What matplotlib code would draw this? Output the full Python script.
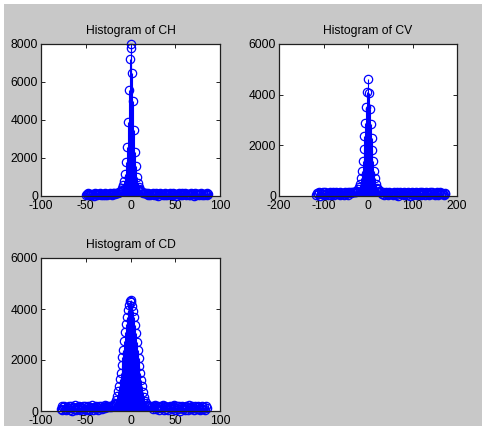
import numpy as np
import matplotlib
matplotlib.use("Agg")
import matplotlib.pyplot as plt
from matplotlib.patches import Rectangle

# ---------------- data ----------------
# Each histogram: counts left of zero (far left -> -step), count at zero, counts right of zero (+step -> far right)

# Histogram of CH (bin step 1, bins -50 .. 87)
ch_step = 1
ch_left = [
    40, 120, 70, 150, 90, 30, 130, 60, 110, 20, 140, 80, 100, 50, 130, 90, 150, 40, 110, 70,
    120, 60, 140, 100, 30, 130, 90, 150, 110, 70, 140, 120, 160, 130, 150,            # -50 .. -16
    160, 180, 200, 230, 270, 330, 420, 560, 800, 1150, 1800, 2600, 3900, 5600, 7200,  # -15 .. -1
]
ch_peak = 8000
ch_right = [
    7800, 6500, 5000, 3500, 2300, 1600, 1000, 700, 500, 380, 300, 250, 210, 180, 160, 150,  # 1 .. 16
    140, 100, 150, 60, 120, 30, 130, 90, 150, 50, 110, 140, 70, 120, 20, 100, 150, 80, 130, 40,
    110, 60, 140, 90, 30, 130, 100, 150, 70, 120, 50, 140, 80, 110, 20, 130, 90, 150, 60, 100,
    140, 40, 120, 80, 150, 30, 110, 130, 70, 100, 50, 140, 90, 120, 20, 150, 60, 110, 80, 130,
    40, 100, 140, 70, 120, 30, 110, 90, 150, 60, 100,                                        # 17 .. 87
]

# Histogram of CV (bin step 2, bins -116 .. 174)
cv_step = 2
cv_left = [
    40, 130, 80, 150, 10, 110, 60, 140, 90, 30, 160, 70, 120, 20, 100, 150, 50, 130, 80, 140,
    30, 110, 160, 60, 120, 90, 20, 150, 70, 130, 100, 40, 160, 80, 120, 50, 140, 110, 150, 130,
    160, 140, 170, 150,                                                                  # -116 .. -30
    160, 180, 210, 260, 340, 480, 700, 1000, 1400, 1850, 2350, 2900, 3500, 4100,         # -28 .. -2
]
cv_peak = 4600
cv_right = [
    4050, 3450, 2850, 2300, 1800, 1380, 1000, 700, 470, 330, 260, 210, 180, 160,         # 2 .. 28
    150, 90, 160, 40, 120, 140, 70, 110, 20, 150, 100, 60, 130, 30, 160, 80, 120, 50, 140, 10,
    110, 150, 60, 130, 90, 20, 160, 70, 120, 40, 140, 100, 0, 80, 150, 30, 110, 130, 60, 160,
    50, 120, 90, 140, 20, 100, 160, 70, 130, 40, 150, 110, 60, 120, 30, 140, 90, 160, 80, 110,
    40, 130, 70, 150, 20, 100, 140, 60, 120, 90, 30, 110, 80,                            # 30 .. 174
]

# Histogram of CD (bin step 1, bins -78 .. 85)
cd_step = 1
cd_left = [
    60, 180, 20, 140, 200, 90, 30, 160, 110, 210, 50, 130, 190, 10, 150, 80, 220, 40, 170, 120,
    70, 200, 30, 150, 100, 210, 60, 180, 20, 140, 190, 90, 40, 160, 120, 220, 50, 170, 110, 200,
    80, 150, 30, 190, 120, 210, 60, 170, 140, 220, 100, 180, 150, 200, 160, 190, 170, 200,  # -78 .. -21
    210, 230, 260, 320, 420, 580, 780, 1000, 1250, 1500, 1800, 2100, 2400, 2750, 3100, 3400,
    3700, 3950, 4150, 4300,                                                                 # -20 .. -1
]
cd_peak = 4350
cd_right = [
    4280, 4120, 3920, 3680, 3380, 3060, 2720, 2380, 2060, 1760, 1480, 1220, 980, 760, 560, 410,
    300, 240, 210, 200,                                                                     # 1 .. 20
    190, 210, 150, 200, 90, 180, 220, 60, 170, 130, 210, 30, 160, 190, 100, 220, 50, 140, 200, 80,
    170, 20, 150, 210, 110, 60, 190, 140, 220, 40, 120, 180, 70, 200, 10, 160, 130, 210, 90, 170,
    50, 190, 140, 30, 220, 100, 160, 70, 200, 120, 20, 180, 150, 60, 210, 90, 170, 40, 130, 190,
    80, 150, 30, 200, 110,                                                                  # 21 .. 85
]

titles = ["Histogram of CH", "Histogram of CV", "Histogram of CD"]
x_limits = [(-100, 100), (-200, 200), (-100, 100)]
x_ticks = [[-100, -50, 0, 50, 100], [-200, -100, 0, 100, 200], [-100, -50, 0, 50, 100]]
y_limits = [(0, 8000), (0, 6000), (0, 6000)]
y_ticks = [[0, 2000, 4000, 6000, 8000], [0, 2000, 4000, 6000], [0, 2000, 4000, 6000]]
series = [(ch_step, ch_left, ch_peak, ch_right),
          (cv_step, cv_left, cv_peak, cv_right),
          (cd_step, cd_left, cd_peak, cd_right)]

# ---------------- figure ----------------
W, H = 482, 426
dpi = 100
plt.rcParams['font.family'] = ['Liberation Sans', 'DejaVu Sans']
fig = plt.figure(figsize=(W / dpi, H / dpi), dpi=dpi, facecolor='#c8c8c8')

# thin white strips at the top and left edges
fig.patches.append(Rectangle((0, 1 - 4 / H), 1, 4 / H, transform=fig.transFigure,
                             facecolor='white', edgecolor='none', zorder=0))
fig.patches.append(Rectangle((0, 0), 4 / W, 1, transform=fig.transFigure,
                             facecolor='white', edgecolor='none', zorder=0))


def px_axes(left, top, right, bottom):
    return [left / W, 1 - bottom / H, (right - left) / W, (bottom - top) / H]


rects = [px_axes(41, 44, 220, 196), px_axes(279, 44, 457, 196), px_axes(41, 258, 220, 411)]

blue = '#0000ff'
fs = 8.7
for rect, title, (step, left, peak, right), xl, xt, yl, yt in zip(
        rects, titles, series, x_limits, x_ticks, y_limits, y_ticks):
    ax = fig.add_axes(rect)
    ax.set_facecolor('white')
    counts = np.asarray(list(left) + [peak] + list(right), dtype=float)
    x = step * (np.arange(len(counts)) - len(left))
    ax.vlines(x, 0, counts, color=blue, lw=0.8, zorder=2)
    ax.plot(x, counts, linestyle='none', marker='o', markersize=6, markerfacecolor='none',
            markeredgecolor=blue, markeredgewidth=0.9, clip_on=False, zorder=3)
    ax.set_xlim(*xl)
    ax.set_ylim(*yl)
    ax.set_xticks(xt)
    ax.set_yticks(yt)
    ax.set_xticklabels([str(v) for v in xt])
    ax.set_yticklabels([str(v) for v in yt])
    ax.tick_params(direction='in', length=3, width=0.6, top=True, right=True,
                   labelsize=fs, colors='black')
    ax.tick_params(axis='y', pad=2)
    ax.tick_params(axis='x', pad=3)
    for sp in ax.spines.values():
        sp.set_linewidth(0.9)
        sp.set_color('#202020')
        sp.set_zorder(5)
    ax.set_title(title, fontsize=fs, pad=7)

fig.savefig('out.png', dpi=dpi, facecolor=fig.get_facecolor())
